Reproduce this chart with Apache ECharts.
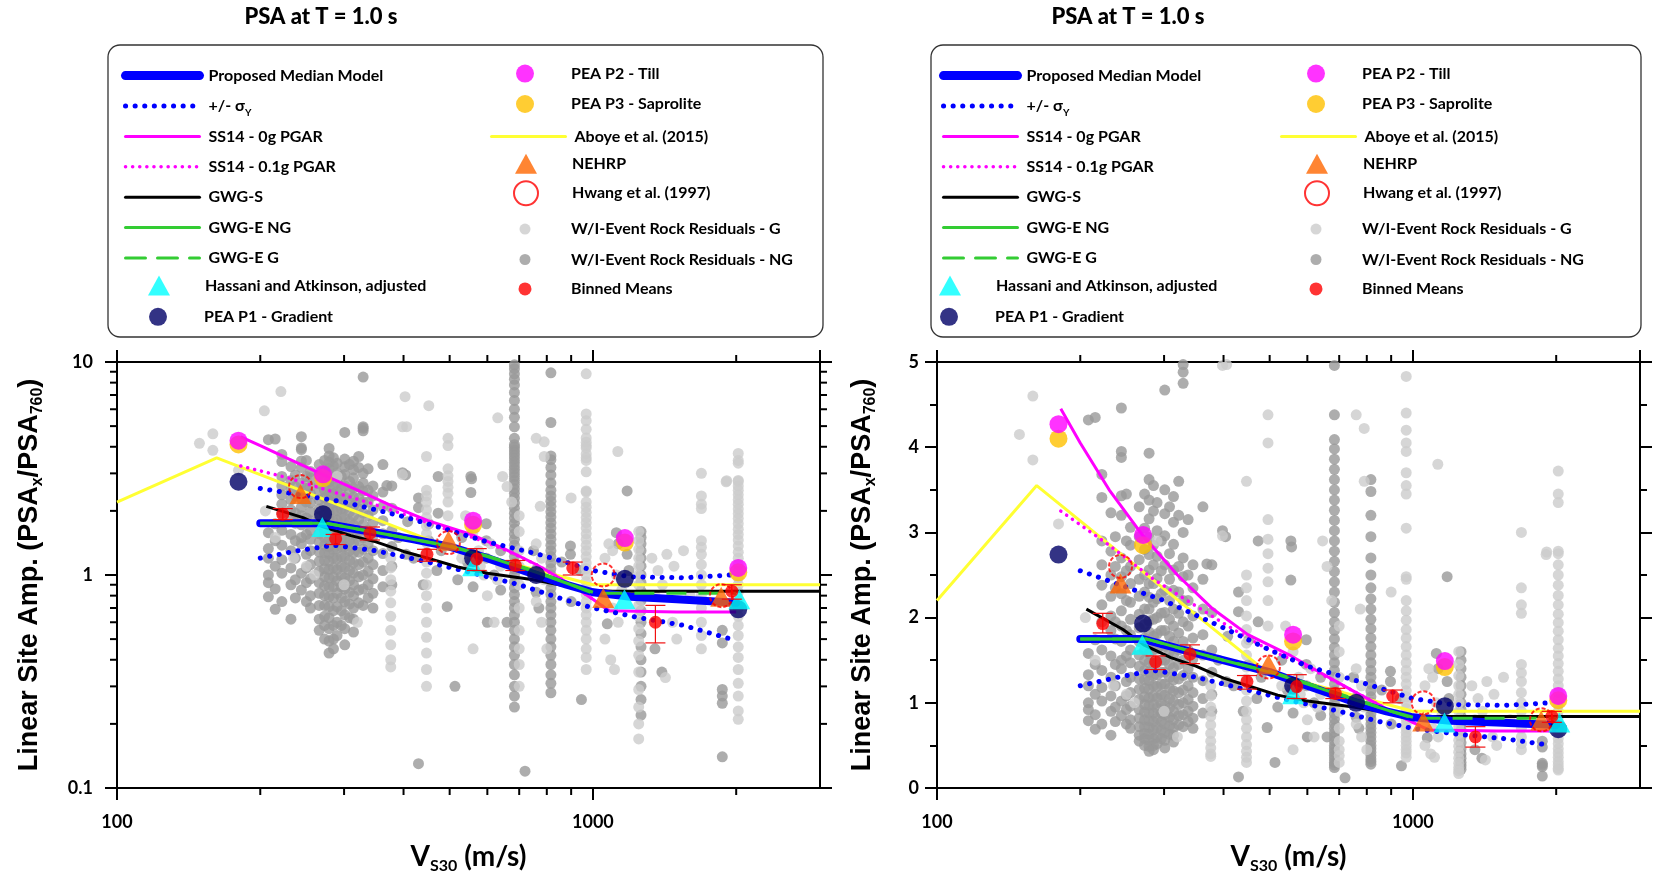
<!DOCTYPE html>
<html lang="en">
<head>
<meta charset="UTF-8">
<title>PSA at T = 1.0 s</title>
<style>
  html, body { margin: 0; padding: 0; background: #fff; }
  #main { width: 1653px; height: 881px; }
</style>
</head>
<body>
<div id="main"></div>
<script src="https://cdn.jsdelivr.net/npm/echarts@6/dist/echarts.min.js"></script>
<script>
// ---------- data (same values in both panels) ----------
// proposed median model and +/- sigma
const medX = [200, 270, 340, 420, 500, 600, 760, 880, 1000, 1200, 1500, 2000];
const medY = [1.75, 1.75, 1.6, 1.47, 1.36, 1.2, 1.0, 0.9, 0.83, 0.79, 0.77, 0.74];
const sigUpX = [200, 300, 400, 500, 600, 760, 900, 1000, 1200, 1550, 1950];
const sigUpY = [2.55, 2.2, 1.88, 1.62, 1.43, 1.26, 1.13, 1.05, 0.98, 0.97, 1.0];
const sigLoX = [200, 240, 285, 350, 450, 550, 700, 850, 1000, 1250, 1550, 1950];
const sigLoY = [1.2, 1.3, 1.38, 1.3, 1.15, 1.03, 0.9, 0.78, 0.7, 0.63, 0.58, 0.5];
// SS14
const ss0X = [182, 200, 230, 270, 320, 380, 450, 555, 650, 760, 900, 1000, 1080, 1500, 2000];
const ss0Y = [4.45, 4.05, 3.5, 2.97, 2.5, 2.1, 1.8, 1.55, 1.33, 1.12, 0.9, 0.77, 0.68, 0.67, 0.67];
const ss1X = [182, 230, 285, 340, 420, 484, 560, 650, 760, 900, 1000, 1080];
const ss1Y = [3.25, 2.85, 2.45, 2.18, 1.86, 1.66, 1.5, 1.32, 1.12, 0.9, 0.77, 0.68];
// GWG
const gwgSX = [206, 246, 272, 310, 350, 400, 450, 520, 600, 750, 970, 1100, 3000];
const gwgSY = [2.1, 1.86, 1.68, 1.53, 1.43, 1.29, 1.2, 1.09, 1.02, 0.95, 0.85, 0.84, 0.84];
const gwgNgX = [200, 275, 400, 500, 600, 760, 900, 1000];
const gwgNgY = [1.75, 1.75, 1.5, 1.36, 1.22, 1.03, 0.9, 0.83];
const gwgGX = [200, 275, 400, 500, 600, 760, 900, 1000, 2000];
const gwgGY = [1.75, 1.75, 1.5, 1.37, 1.23, 1.04, 0.9, 0.82, 0.82];
// Aboye et al. (2015)
const aboyeX = [100, 162, 493, 1000, 3000];
const aboyeY = [2.2, 3.55, 1.36, 0.9, 0.9];
// point estimates
const haX = [270, 560, 1165, 2030];
const haY = [1.68, 1.1, 0.77, 0.77];
const p1X = [180, 271, 560, 760, 1167, 2020];
const p1Y = [2.74, 1.93, 1.2, 1.0, 0.96, 0.69];
const p2X = [180, 271, 560, 1167, 2020];
const p2Y = [4.27, 2.97, 1.8, 1.49, 1.08];
const p3X = [180, 271, 560, 1167, 2020];
const p3Y = [4.1, 2.85, 1.72, 1.42, 1.03];
const nehrpX = [243, 497, 1051, 1860];
const nehrpY = [2.4, 1.45, 0.78, 0.79];
const hwangX = [243, 497, 1051, 1862];
const hwangY = [2.6, 1.42, 1.0, 0.8];
// binned means with error bars
const binX = [223, 288, 340, 448, 570, 687, 907, 1353, 1958];
const binY = [1.93, 1.48, 1.57, 1.25, 1.19, 1.11, 1.08, 0.6, 0.84];
const binLo = [1.82, 1.39, 1.46, 1.16, 1.05, 1.05, 1.0, 0.48, 0.77];
const binHi = [2.05, 1.55, 1.68, 1.32, 1.33, 1.17, 1.15, 0.72, 0.9];
// within-event rock residuals, NG (dark) : [vs30, amplitudes at that vs30]
const ngColumns = [
  [208, [4.32, 1.58, 1.33, 1.2, 1.0, 0.92, 0.79]],
  [215, [4.35, 1.74, 1.45, 1.1, 0.86, 0.69]],
  [222, [3.68, 3.41, 2.9, 2.62, 2.38, 2.15, 1.95, 1.62, 1.38, 1.18, 1.02, 0.75]],
  [232, [3.23, 2.78, 2.5, 2.25, 2.02, 1.85, 1.55, 1.3, 1.08, 0.9, 0.62]],
  [237, [2.95, 2.6, 2.35, 1.95, 1.75, 1.45, 1.2, 0.95, 0.78]],
  [244, [4.46, 3.95, 3.88, 3.43, 3.2, 2.7, 2.48, 2.28, 2.08, 1.9, 1.72, 1.5, 1.4, 1.02, 0.85]],
  [250, [3.45, 2.9, 2.55, 2.2, 1.85, 1.55, 1.25, 1.08, 0.92, 0.75]],
  [255, [3.06, 2.85, 2.6, 2.4, 2.18, 1.98, 1.8, 1.62, 1.47, 1.3, 1.12, 0.96, 0.8, 0.7]],
  [266, [3.3, 2.95, 2.68, 2.45, 2.25, 2.04, 1.88, 1.72, 1.56, 1.43, 1.28, 1.16, 1.04, 0.92, 0.82, 0.72, 0.62, 0.55]],
  [273, [3.45, 3.05, 2.8, 2.5, 2.3, 2.1, 1.92, 1.76, 1.62, 1.5, 1.38, 1.27, 1.17, 1.07, 0.98, 0.89, 0.8, 0.72, 0.64, 0.58, 0.5]],
  [279, [3.93, 3.62, 3.38, 3.16, 2.94, 2.74, 2.56, 2.4, 2.24, 2.1, 1.96, 1.83, 1.7, 1.58, 1.47, 1.36, 1.26, 1.16, 1.06, 0.97, 0.88, 0.79, 0.71, 0.63, 0.56, 0.49, 0.43]],
  [285, [3.55, 3.25, 2.85, 2.62, 2.4, 2.18, 1.98, 1.78, 1.62, 1.46, 1.32, 1.2, 1.08, 0.98, 0.88, 0.78, 0.68, 0.58, 0.5, 0.45]],
  [290, [3.35, 3.02, 2.72, 2.46, 2.22, 2.0, 1.81, 1.63, 1.48, 1.33, 1.19, 1.06, 0.94, 0.82, 0.71, 0.6, 0.52]],
  [296, [2.9, 2.55, 2.28, 2.05, 1.85, 1.67, 1.5, 1.36, 1.22, 1.1, 0.99, 0.88, 0.78, 0.68, 0.58]],
  [301, [4.67, 3.5, 3.22, 2.96, 2.62, 2.32, 2.06, 1.85, 1.66, 1.5, 1.36, 1.22, 1.09, 0.97, 0.86, 0.75, 0.65, 0.56, 0.47]],
  [308, [3.3, 2.75, 2.45, 2.2, 1.98, 1.78, 1.6, 1.45, 1.3, 1.17, 1.05, 0.94, 0.83, 0.73, 0.63]],
  [314, [3.42, 3.12, 2.86, 2.56, 2.32, 2.1, 1.9, 1.72, 1.56, 1.41, 1.27, 1.14, 1.02, 0.9, 0.8, 0.7, 0.62, 0.54]],
  [322, [3.6, 3.2, 2.6, 2.3, 2.05, 1.82, 1.62, 1.45, 1.28, 1.12, 0.98, 0.85, 0.74]],
  [329, [8.5, 4.97, 4.88, 4.75, 3.0, 2.7, 2.48, 2.2, 1.95, 1.72, 1.5, 1.32, 1.15, 1.0, 0.86, 0.72]],
  [337, [3.15, 2.5, 2.2, 1.9, 1.62, 1.4, 1.2, 1.04, 0.9, 0.78]],
  [345, [2.62, 2.35, 2.02, 1.76, 1.52, 1.3, 1.12, 0.96, 0.82, 0.7]],
  [362, [3.3, 2.45, 2.1, 1.8, 1.56, 1.26, 1.05, 0.88]],
  [378, [2.62, 2.06, 1.62, 1.36, 1.1, 0.9]],
  [684, [9.7, 9.3, 8.8, 8.3, 7.8, 7.2, 6.6, 6.0, 5.5, 4.96, 4.38, 4.09, 3.98, 3.86, 3.74, 3.62, 3.5, 3.38, 3.26, 3.14, 3.02, 2.9, 2.78, 2.66, 2.54, 2.42, 2.3, 2.18, 2.06, 1.95, 1.85, 1.75, 1.65, 1.56, 1.47, 1.38, 1.3, 1.22, 1.14, 1.07, 1.0, 0.93, 0.87, 0.81, 0.75, 0.7, 0.65, 0.6, 0.55, 0.5, 0.46, 0.42, 0.38, 0.34, 0.3, 0.27, 0.24]],
  [816, [8.9, 5.2, 3.62, 3.48, 3.2, 2.95, 2.7, 2.5, 2.35, 2.22, 2.1, 1.98, 1.87, 1.76, 1.66, 1.56, 1.47, 1.38, 1.3, 1.22, 1.14, 1.07, 1.0, 0.93, 0.87, 0.81, 0.75, 0.7, 0.65, 0.6, 0.55, 0.5, 0.46, 0.42, 0.38, 0.34, 0.31, 0.28]],
  [1262, [1.6, 1.5, 1.4, 1.3, 1.2, 1.1, 1.0, 0.92, 0.84, 0.76, 0.68, 0.6, 0.53, 0.46, 0.4, 0.35, 0.3, 0.26, 0.22]],
  [1870, [0.55, 0.48, 0.29, 0.27, 0.25, 0.14]]
];
const ngScatter = [[398, 3.02], [404, 2.95], [430, 2.3], [430, 2.07], [408, 1.78], [452, 1.74], [452, 1.45],
  [473, 2.9], [473, 1.95], [494, 0.71], [513, 0.3], [554, 2.9], [556, 2.83], [554, 2.44], [597, 1.74],
  [597, 1.45], [597, 1.2], [620, 1.0], [640, 0.85], [420, 1.2], [470, 1.05], [520, 0.95], [560, 0.88],
  [600, 0.6], [440, 0.9], [430, 0.13], [946, 0.26], [897, 1.37], [897, 1.25], [940, 1.05], [760, 1.06],
  [760, 0.83], [1072, 0.59], [1180, 2.48], [1180, 1.25], [1190, 1.05], [1120, 1.58], [1130, 1.4],
  [1350, 0.45], [1396, 0.35], [720, 0.12], [369, 2.63], [390, 1.5], [405, 1.25], [480, 1.3], [530, 1.5],
  [545, 1.15], [640, 1.3], [660, 0.6], [750, 1.3], [770, 0.7], [860, 1.15], [900, 0.75]];
// within-event rock residuals, G (light)
const gColumns = [
  [968, [8.8, 5.7, 5.3, 4.83, 4.4, 4.2, 4.05, 3.95, 3.7, 3.55, 3.45, 3.05, 2.48, 2.45, 2.2, 2.08, 1.97, 1.86, 1.76, 1.66, 1.56, 1.47, 1.38, 1.3, 1.22, 1.14, 1.07, 1.0, 0.93, 0.87, 0.81, 0.75, 0.7, 0.65, 0.6, 0.55, 0.5, 0.45, 0.41, 0.36]],
  [2020, [3.72, 3.45, 3.35, 2.78, 2.75, 2.62, 2.5, 2.38, 2.26, 2.15, 2.04, 1.94, 1.84, 1.74, 1.64, 1.55, 1.46, 1.37, 1.28, 1.2, 1.12, 1.04, 0.97, 0.9, 0.83, 0.76, 0.7, 0.64, 0.58, 0.52, 0.46, 0.41, 0.36, 0.31, 0.27, 0.23, 0.21]],
  [1690, [3.0, 2.35, 2.15, 2.05, 1.45, 1.35, 1.25, 1.12, 1.0, 0.9, 0.8, 0.7, 0.6, 0.52, 0.45]],
  [1248, [1.6, 1.45, 1.32, 1.2, 1.1, 1.0, 0.9, 0.8, 0.72, 0.64, 0.56, 0.49, 0.42, 0.35, 0.29, 0.24, 0.2, 0.17]],
  [447, [2.5, 2.35, 2.2, 2.02, 1.86, 1.7, 1.56, 1.42, 1.28, 1.15, 1.02, 0.9, 0.8, 0.7, 0.6, 0.51, 0.43, 0.36, 0.3]],
  [376, [1.2, 1.08, 0.95, 0.84, 0.74, 0.64, 0.55, 0.47, 0.4, 0.37]],
  [496, [4.38, 4.05, 3.15, 2.92, 2.75, 2.58, 2.42, 2.2, 1.9]],
  [700, [1.9, 1.6, 1.3, 1.1, 0.9, 0.7, 0.55, 0.45, 0.38, 0.3]]
];
const gScatter = [[221, 7.26], [204, 5.9], [403, 6.87], [452, 6.24], [631, 5.47], [406, 4.97], [149, 4.15],
  [159, 3.85], [159, 4.6], [1128, 3.8], [1910, 2.77], [1905, 2.74], [398, 4.96], [398, 2.96], [447, 3.6],
  [646, 2.9], [660, 2.6], [675, 2.2], [760, 4.38], [790, 4.22], [790, 3.6], [775, 2.1], [760, 1.4],
  [780, 1.2], [790, 0.95], [760, 0.75], [780, 0.6], [800, 0.45], [1080, 1.4], [1100, 1.3], [1060, 1.2],
  [1120, 1.0], [1150, 0.85], [1100, 0.7], [1130, 0.6], [1060, 0.5], [1090, 0.4], [1110, 0.36], [1330, 1.2],
  [1370, 1.05], [1400, 0.9], [1430, 1.25], [1470, 0.6], [1500, 0.5], [1350, 0.8], [1420, 0.33], [1480, 1.1],
  [1550, 1.3], [1600, 0.8], [540, 1.9], [560, 1.6], [575, 1.3], [590, 1.0], [600, 0.8], [620, 0.6],
  [560, 0.45], [580, 1.1], [530, 1.2], [610, 1.4], [640, 1.1], [630, 0.95], [205, 2.0], [215, 1.5],
  [235, 1.2], [250, 1.1], [260, 1.0], [300, 0.9], [320, 0.6], [290, 2.9], [180, 3.1], [900, 2.3]];
// minor tick positions of the log axes
const xMinorTicks = [200, 300, 400, 500, 600, 700, 800, 900, 2000];
const yMinorTicksLog = [0.2, 0.3, 0.4, 0.5, 0.6, 0.7, 0.8, 0.9, 2, 3, 4, 5, 6, 7, 8, 9];

const legendCol1 = ['Proposed Median Model', '+/- σY', 'SS14 - 0g PGAR', 'SS14 - 0.1g PGAR', 'GWG-S', 'GWG-E NG', 'GWG-E G'];

// ---------- layout ----------
const FONT = 'Lato';
const ROW0 = 70.6, PITCH = 30.4;
const TRI = 'path://M0,20L11,0L22,20Z';
// col1Line / col2Line: left edge of line icons; col1Sym / col2Sym: centre of marker icons
const panels = [
  { grid: { left: 117, top: 362, width: 703, height: 426 }, titleX: 321, box: { x: 108, y: 45, width: 715, height: 292 },
    col1Line: 121, col1Sym: 158, col2Line: 490, col2Sym: 525, yNameGap: 71, yLabelMargin: 24, log: true },
  { grid: { left: 937, top: 362, width: 703, height: 426 }, titleX: 1128, box: { x: 931, y: 45, width: 710, height: 292 },
    col1Line: 939, col1Sym: 949, col2Line: 1280, col2Sym: 1316, yNameGap: 58, yLabelMargin: 18, log: false }
];

// line widths of the legend line icons
const legendLineWidth = {
  'Proposed Median Model': 9, '+/- σY': 5, 'SS14 - 0g PGAR': 3, 'SS14 - 0.1g PGAR': 3.5,
  'GWG-S': 3, 'GWG-E NG': 3, 'GWG-E G': 3, 'Aboye et al. (2015)': 3
};

const zip = (xs, ys) => xs.map((x, i) => [x, ys[i]]);
const expand = (cols, extra) => {
  const out = [];
  cols.forEach(c => c[1].forEach(y => out.push([c[0], y])));
  return out.concat(extra);
};
const ngPts = expand(ngColumns, ngScatter);
const gPts = expand(gColumns, gScatter);

const tickStyle = { stroke: '#000', lineWidth: 2 };
const MINOR = 7;

function xMinorItem(params, api) {
  const p = api.coord([api.value(0), api.value(1)]);
  const cs = params.coordSys;
  const yb = cs.y + cs.height, yt = cs.y;
  return { type: 'group', children: [
    { type: 'line', shape: { x1: p[0], y1: yb, x2: p[0], y2: yb + MINOR }, style: tickStyle },
    { type: 'line', shape: { x1: p[0], y1: yt, x2: p[0], y2: yt - MINOR }, style: tickStyle }
  ] };
}
function yMinorItem(params, api) {
  const p = api.coord([api.value(0), api.value(1)]);
  const cs = params.coordSys;
  const xl = cs.x, xr = cs.x + cs.width;
  return { type: 'group', children: [
    { type: 'line', shape: { x1: xl, y1: p[1], x2: xl - MINOR, y2: p[1] }, style: tickStyle },
    { type: 'line', shape: { x1: xr, y1: p[1], x2: xr + MINOR, y2: p[1] }, style: tickStyle }
  ] };
}
function errItem(params, api) {
  const x = api.value(0);
  const a = api.coord([x, api.value(1)]);
  const b = api.coord([x, api.value(2)]);
  const st = { stroke: '#f01010', lineWidth: 1.2 };
  return { type: 'group', children: [
    { type: 'line', shape: { x1: a[0], y1: a[1], x2: b[0], y2: b[1] }, style: st },
    { type: 'line', shape: { x1: a[0] - 10, y1: a[1], x2: a[0] + 10, y2: a[1] }, style: st },
    { type: 'line', shape: { x1: b[0] - 10, y1: b[1], x2: b[0] + 10, y2: b[1] }, style: st }
  ] };
}

function panelSeries(p) {
  const ax = { xAxisIndex: 2 * p, yAxisIndex: 2 * p, silent: true };
  const line = (name, xs, ys, ls, z) => Object.assign({
    type: 'line', name, data: zip(xs, ys), symbol: 'none', lineStyle: ls, itemStyle: { color: ls.color }, z: z || 3
  }, ax);
  const pts = (name, xs, ys, symbol, size, style, z) => Object.assign({
    type: 'scatter', name, data: zip(xs, ys), symbol, symbolSize: size, itemStyle: style, z: z || 5
  }, ax);
  const list = [
    Object.assign({ type: 'scatter', name: 'W/I-Event Rock Residuals - NG', data: ngPts, symbolSize: 11,
      itemStyle: { color: '#999999' }, z: 1 }, ax),
    Object.assign({ type: 'scatter', name: 'W/I-Event Rock Residuals - G', data: gPts, symbolSize: 11,
      itemStyle: { color: '#cccccc' }, z: 1 }, ax),
    line('Aboye et al. (2015)', aboyeX, aboyeY, { color: '#ffff33', width: 3 }),
    line('SS14 - 0.1g PGAR', ss1X, ss1Y, { color: '#ff00ff', width: 3.5, type: [0.1, 7], cap: 'round' }),
    line('SS14 - 0g PGAR', ss0X, ss0Y, { color: '#ff00ff', width: 3 }),
    line('+/- σY', sigUpX, sigUpY, { color: '#0000ff', width: 5, type: [0.1, 9.5], cap: 'round' }),
    line('+/- σY', sigLoX, sigLoY, { color: '#0000ff', width: 5, type: [0.1, 9.5], cap: 'round' }),
    line('GWG-S', gwgSX, gwgSY, { color: '#000000', width: 3 }),
    line('Proposed Median Model', medX, medY, { color: '#0000ff', width: 8, cap: 'round' }),
    line('GWG-E NG', gwgNgX, gwgNgY, { color: '#33cc33', width: 3 }),
    line('GWG-E G', gwgGX, gwgGY, { color: '#33cc33', width: 3, type: [20, 12] }),
    pts('PEA P3 - Saprolite', p3X, p3Y, 'circle', 18, { color: '#ffc000' }),
    pts('PEA P2 - Till', p2X, p2Y, 'circle', 18, { color: '#ff00ff' }),
    pts('PEA P1 - Gradient', p1X, p1Y, 'circle', 18, { color: '#000066' }),
    pts('NEHRP', nehrpX, nehrpY, TRI, [22, 20], { color: '#ff6600' }),
    pts('Hassani and Atkinson, adjusted', haX, haY, TRI, [22, 20], { color: '#00ffff' }),
    pts('Hwang et al. (1997)', hwangX, hwangY, 'circle', 23,
      { color: 'rgba(255,255,255,0)', borderColor: '#ff0000', borderWidth: 2, borderType: [4, 2] }, 6),
    Object.assign({ type: 'custom', name: 'binErr', data: binX.map((x, i) => [x, binLo[i], binHi[i]]),
      encode: { x: 0, y: [1, 2] }, renderItem: errItem, z: 6 }, ax),
    pts('Binned Means', binX, binY, 'circle', 13, { color: '#ff0000' }, 7),
    Object.assign({ type: 'custom', name: 'xMinor', data: xMinorTicks.map(v => [v, 1]), renderItem: xMinorItem,
      clip: false, z: 10 }, ax)
  ];
  if (panels[p].log) {
    list.push(Object.assign({ type: 'custom', name: 'yMinor', data: yMinorTicksLog.map(v => [200, v]),
      renderItem: yMinorItem, clip: false, z: 10 }, ax));
  }
  return list;
}

const legendText = {
  fontFamily: FONT, fontWeight: 'bold', fontSize: 16, color: '#000', lineHeight: 24, padding: [0, 0, 0, 4],
  rich: { s: { fontFamily: FONT, fontWeight: 'bold', fontSize: 10, lineHeight: 14, verticalAlign: 'bottom', color: '#000' } }
};
function legendBlock(left, row, names, w, h, isLine) {
  const lg = {
    left, top: ROW0 + row * PITCH - h / 2, orient: 'vertical', padding: 0,
    itemWidth: w, itemHeight: h, itemGap: PITCH - 24, selectedMode: false,
    data: names, textStyle: legendText,
    formatter: n => n === '+/- σY' ? '+/- σ{s|Y}' : n
  };
  if (isLine) {
    lg.itemStyle = { opacity: 0 };
    lg.data = names.map(n => ({ name: n, lineStyle: { width: legendLineWidth[n], cap: 'round' } }));
  }
  return lg;
}
function panelLegends(p) {
  const pl = panels[p];
  const c1 = pl.col1Line, c2 = pl.col2Line, s1 = pl.col1Sym, s2 = pl.col2Sym;
  return [
    legendBlock(c1, 0, legendCol1, 74, 14, true),
    legendBlock(s1 - 10, 7, ['Hassani and Atkinson, adjusted'], 74, 20),
    legendBlock(s1 - 9, 8, ['PEA P1 - Gradient'], 74, 18),
    legendBlock(s2 - 9, 0, ['PEA P2 - Till', 'PEA P3 - Saprolite'], 74, 18),
    legendBlock(c2, 2, ['Aboye et al. (2015)'], 74, 14, true),
    legendBlock(s2 - 10, 3, ['NEHRP'], 74, 20),
    legendBlock(s2 - 12, 4, ['Hwang et al. (1997)'], 74, 24),
    legendBlock(s2 - 5.5, 5, ['W/I-Event Rock Residuals - G', 'W/I-Event Rock Residuals - NG'], 74, 11),
    legendBlock(s2 - 6.5, 7, ['Binned Means'], 74, 13)
  ];
}

const axisLineStyle = { show: true, onZero: false, lineStyle: { color: '#000', width: 2 } };
const majorTick = { show: true, inside: false, length: 12, lineStyle: { color: '#000', width: 2 } };
const labelStyle = { color: '#000', fontFamily: FONT, fontWeight: 'bold', fontSize: 18 };

const xAxes = [], yAxes = [];
panels.forEach((pl, p) => {
  const xBase = { type: 'log', logBase: 10, gridIndex: p, min: 100, max: 3000, splitLine: { show: false },
    axisLine: axisLineStyle, axisTick: majorTick, nameMoveOverlap: false };
  xAxes.push(Object.assign({}, xBase, {
    position: 'bottom',
    axisLabel: Object.assign({ margin: 25, showMaxLabel: false, formatter: v => String(Math.round(v)) }, labelStyle),
    name: '{m|V}{s|S30}{m| (m/s)}', nameLocation: 'middle', nameGap: 52,
    nameTextStyle: { rich: {
      m: { fontFamily: FONT, fontWeight: 'bold', fontSize: 28, lineHeight: 34, color: '#000' },
      s: { fontFamily: FONT, fontWeight: 'bold', fontSize: 16, lineHeight: 14, verticalAlign: 'bottom', color: '#000' } } }
  }));
  xAxes.push(Object.assign({}, xBase, { position: 'top', axisLabel: { show: false } }));

  const yName = {
    name: '{m|Linear Site Amp. (PSA}{s|x}{m|/PSA}{s|760}{m|)}', nameLocation: 'middle', nameGap: pl.yNameGap,
    nameMoveOverlap: false,
    nameTextStyle: { rich: {
      m: { fontFamily: 'Liberation Sans', fontWeight: 'bold', fontSize: 27, lineHeight: 32, color: '#000' },
      s: { fontFamily: 'Liberation Sans', fontWeight: 'bold', fontSize: 16, lineHeight: 12, verticalAlign: 'bottom', color: '#000' } } }
  };
  let yBase;
  if (pl.log) {
    yBase = { type: 'log', logBase: 10, gridIndex: p, min: 0.1, max: 10, splitLine: { show: false },
      axisLine: axisLineStyle, axisTick: majorTick };
  } else {
    yBase = { type: 'value', gridIndex: p, min: 0, max: 5, interval: 1, splitLine: { show: false },
      axisLine: axisLineStyle, axisTick: majorTick,
      minorTick: { show: true, splitNumber: 2, length: MINOR, lineStyle: { color: '#000', width: 2 } },
      minorSplitLine: { show: false } };
  }
  yAxes.push(Object.assign({}, yBase, yName, {
    position: 'left',
    axisLabel: Object.assign({ margin: pl.yLabelMargin, formatter: v => String(parseFloat((+v).toPrecision(3))) }, labelStyle)
  }));
  yAxes.push(Object.assign({}, yBase, { position: 'right', axisLabel: { show: false } }));
});

const option = {
  backgroundColor: '#fff',
  animation: false,
  title: panels.map(pl => ({
    text: 'PSA at T = 1.0 s', left: pl.titleX, top: 6, textAlign: 'center', padding: 0,
    textStyle: { fontFamily: FONT, fontWeight: 900, fontSize: 22, color: '#000' }
  })),
  grid: panels.map(pl => Object.assign({ outerBoundsMode: 'none', containLabel: false }, pl.grid)),
  xAxis: xAxes,
  yAxis: yAxes,
  legend: panelLegends(0).concat(panelLegends(1)),
  graphic: panels.map(pl => ({
    type: 'rect', silent: true, z: 0,
    shape: { x: pl.box.x, y: pl.box.y, width: pl.box.width, height: pl.box.height, r: 12 },
    style: { fill: 'none', stroke: '#333', lineWidth: 1.3 }
  })),
  series: panelSeries(0).concat(panelSeries(1))
};

const chart = echarts.init(document.getElementById('main'), null, { renderer: 'canvas' });
chart.setOption(option);
</script>
</body>
</html>
